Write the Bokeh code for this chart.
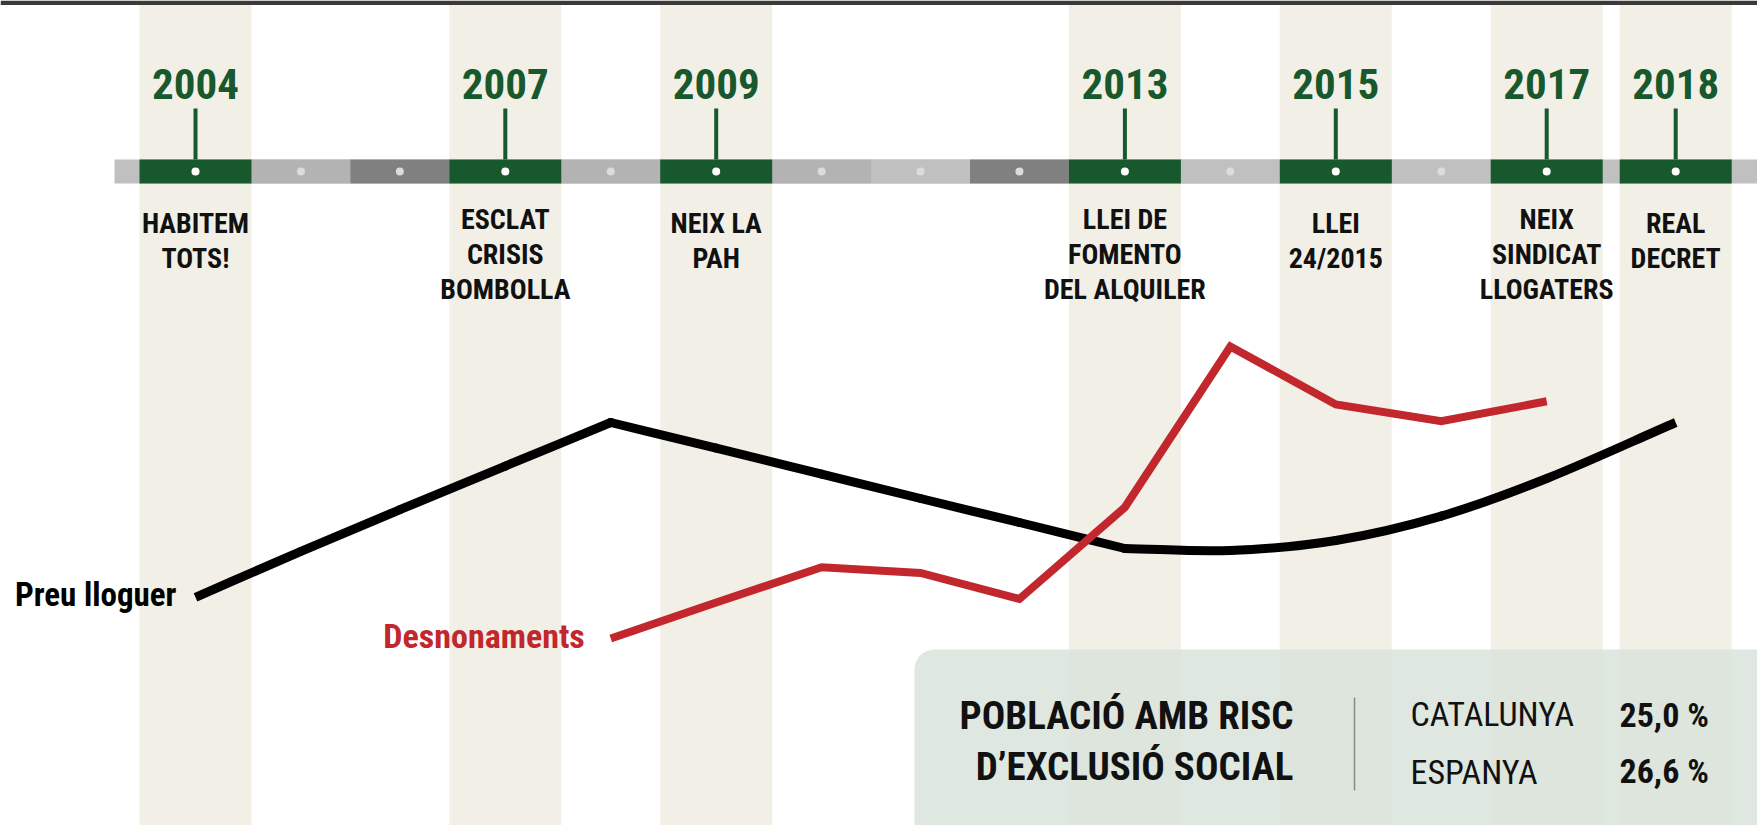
import math
from bokeh.plotting import figure
from bokeh.models import Range1d, BoxAnnotation
from bokeh.core.properties import value
from bokeh.embed import file_html
from bokeh.resources import INLINE

# ---------------- data ----------------
YEARS = list(range(2004, 2019))
EVENT_YEARS = [2004, 2007, 2009, 2013, 2015, 2017, 2018]
EVENT_LABELS = [
    ["HABITEM", "TOTS!"],
    ["ESCLAT", "CRISIS", "BOMBOLLA"],
    ["NEIX LA", "PAH"],
    ["LLEI DE", "FOMENTO", "DEL ALQUILER"],
    ["LLEI", "24/2015"],
    ["NEIX", "SINDICAT", "LLOGATERS"],
    ["REAL", "DECRET"],
]
# tone of the plain (non-event) year blocks on the timeline: 0 light, 1 mid, 2 dark
YEAR_TONE = {2005: 1, 2006: 2, 2008: 1, 2010: 1, 2011: 0, 2012: 2, 2014: 0, 2016: 0}

PREU_NAME = "Preu lloguer"
PREU_YEARS = list(range(2004, 2019))
PREU_INDEX = [25.8, 37.3, 47.7, 58.6, 69.5, 63.1, 56.6, 50.5, 44.5, 38.0, 37.5, 40.0, 46.1, 55.5, 69.5]

DESN_NAME = "Desnonaments"
DESN_YEARS = list(range(2008, 2018))
DESN_INDEX = [15.5, 24.5, 33.3, 31.9, 25.4, 48.3, 88.5, 74.0, 69.8, 74.8]

RISK_TITLE = ["POBLACIÓ AMB RISC", "D\u2019EXCLUSIÓ SOCIAL"]
RISK_REGIONS = ["CATALUNYA", "ESPANYA"]
RISK_PCT = [25.0, 26.6]

# ---------------- layout / style ----------------
W, H = 1757, 825
PX_PER_YEAR = 98.9              # width of an ordinary year block
EVENT_SLOT = 112 / PX_PER_YEAR  # event years get a wider block
GAP_LAST = 17 / PX_PER_YEAR     # small spacer before the last block
TL_LEFT_PX = 139                # left edge of first year block
X0 = -TL_LEFT_PX / PX_PER_YEAR
X1 = X0 + W / PX_PER_YEAR
Y_ZERO_PX, PX_PER_UNIT = 700, 4.0

GREEN = "#17582c"
STRIPE = "#f2efe7"
RED = "#c1272d"
INK = "#111111"
TONES = ["#c0c0c0", "#b3b3b3", "#808080"]
FONT = value("Roboto Condensed")
PREU_W = 9

# year block geometry in timeline units
edges = {}
pos = 0.0
for yr in YEARS:
    if yr == YEARS[-1]:
        pos += GAP_LAST
    w = EVENT_SLOT if yr in EVENT_YEARS else 1.0
    edges[yr] = (pos, pos + w)
    pos += w
center = {yr: (a + b) / 2 for yr, (a, b) in edges.items()}

p = figure(width=W, height=H, output_backend="svg", toolbar_location=None,
           x_range=Range1d(X0, X1),
           y_range=Range1d(-(H - Y_ZERO_PX) / PX_PER_UNIT, Y_ZERO_PX / PX_PER_UNIT),
           x_axis_location=None, y_axis_location=None, min_border=0,
           outline_line_color=None, background_fill_color="white",
           border_fill_color="white")
p.grid.visible = False
p.extra_x_ranges = {"px": Range1d(0, W)}
p.extra_y_ranges = {"px": Range1d(H, 0)}

# stripes for event years
p.quad(left=[edges[y][0] for y in EVENT_YEARS], right=[edges[y][1] for y in EVENT_YEARS],
       top=4, bottom=H, y_range_name="px", fill_color=STRIPE, line_color=None)
# dark rule at the top
p.quad(left=0, right=W, top=0, bottom=4.5, x_range_name="px", y_range_name="px",
       fill_color="#3a3a3a", line_color=None)

# timeline bar
BAR_TOP, BAR_BOT = 159, 183
p.quad(left=-25 / PX_PER_YEAR, right=X1 + 1, top=BAR_TOP, bottom=BAR_BOT, y_range_name="px",
       fill_color=TONES[0], line_color=None)
seg_years = list(YEAR_TONE.keys()) + EVENT_YEARS
seg_cols = [TONES[YEAR_TONE[y]] for y in YEAR_TONE] + [GREEN] * len(EVENT_YEARS)
p.quad(left=[edges[y][0] for y in seg_years], right=[edges[y][1] for y in seg_years],
       top=BAR_TOP, bottom=BAR_BOT, y_range_name="px", fill_color=seg_cols, line_color=None)
p.scatter(x=[center[y] for y in YEARS], y=(BAR_TOP + BAR_BOT) / 2, y_range_name="px", size=8,
          fill_color=["white" if y in EVENT_YEARS else "#dcdcdc" for y in YEARS], line_color=None)

# stems and year labels (y = visual centre of the capitals)
ex = [center[y] for y in EVENT_YEARS]
p.segment(x0=ex, y0=108, x1=ex, y1=BAR_TOP, y_range_name="px", line_color=GREEN, line_width=4)
p.text(x=ex, y=83.5, text=[str(y) for y in EVENT_YEARS], y_range_name="px",
       text_align="center", text_baseline="alphabetic", text_font=FONT,
       text_font_style="bold", text_font_size="43px", text_color=GREEN)

# event descriptions
lx, ly, lt = [], [], []
for yr, lines in zip(EVENT_YEARS, EVENT_LABELS):
    first = 218.5 if len(lines) == 3 else 222.5
    for i, t in enumerate(lines):
        lx.append(center[yr]); ly.append(first + 35 * i); lt.append(t)
p.text(x=lx, y=ly, text=lt, y_range_name="px", text_align="center",
       text_baseline="alphabetic", text_font=FONT, text_font_style="bold",
       text_font_size="28px", text_color=INK)

# ---------------- data lines ----------------
def screen_angle(dx, dy):
    return math.atan2(dy * PX_PER_UNIT, dx * PX_PER_YEAR)


def smooth_path(xs, ys, corner_deg=10):
    """Cubic Hermite through the data points; sharper turns stay as corners."""
    n = len(xs)
    tin, tout, corners = [0.0] * n, [0.0] * n, []
    for i in range(n):
        if i == 0:
            s = (ys[1] - ys[0]) / (xs[1] - xs[0]); tin[i] = tout[i] = s
        elif i == n - 1:
            s = (ys[-1] - ys[-2]) / (xs[-1] - xs[-2]); tin[i] = tout[i] = s
        else:
            s0 = (ys[i] - ys[i - 1]) / (xs[i] - xs[i - 1])
            s1 = (ys[i + 1] - ys[i]) / (xs[i + 1] - xs[i])
            turn = abs(screen_angle(1, s1) - screen_angle(1, s0))
            if math.degrees(turn) > corner_deg:
                tin[i], tout[i] = s0, s1
                corners.append(i)
            else:
                s = (ys[i + 1] - ys[i - 1]) / (xs[i + 1] - xs[i - 1])
                tin[i] = tout[i] = s
    seg = dict(x0=[], y0=[], x1=[], y1=[], cx0=[], cy0=[], cx1=[], cy1=[])
    for i in range(n - 1):
        h = xs[i + 1] - xs[i]
        seg["x0"].append(xs[i]); seg["y0"].append(ys[i])
        seg["x1"].append(xs[i + 1]); seg["y1"].append(ys[i + 1])
        seg["cx0"].append(xs[i] + h / 3); seg["cy0"].append(ys[i] + tout[i] * h / 3)
        seg["cx1"].append(xs[i + 1] - h / 3); seg["cy1"].append(ys[i + 1] - tin[i + 1] * h / 3)
    return seg, corners


preu_x = [center[y] for y in PREU_YEARS]
seg, corners = smooth_path(preu_x, PREU_INDEX)
# inner pieces get round caps so that the pieces join seamlessly; the two
# outer pieces keep square-cut ends like the original
inner = {k: v[1:-1] for k, v in seg.items()}
outer = {k: [v[0], v[-1]] for k, v in seg.items()}
p.bezier(line_color="black", line_width=PREU_W, line_cap="round", **inner)
p.bezier(line_color="black", line_width=PREU_W, line_cap="butt", **outer)
p.scatter(x=[preu_x[i] for i in corners], y=[PREU_INDEX[i] for i in corners],
          size=PREU_W, marker="circle", fill_color="black", line_color=None)

desn_x = [center[y] for y in DESN_YEARS]
p.line(x=desn_x, y=DESN_INDEX, line_color=RED, line_width=8, line_join="miter", line_cap="butt")

p.text(x=[preu_x[0]], y=[PREU_INDEX[0]], text=[PREU_NAME], text_align="right",
       text_baseline="alphabetic", x_offset=-19, y_offset=-3, text_font=FONT,
       text_font_style="bold", text_font_size="33px", text_color="black")
p.text(x=[desn_x[0]], y=[DESN_INDEX[0]], text=[DESN_NAME], text_align="right",
       text_baseline="alphabetic", x_offset=-26, y_offset=-2.5, text_font=FONT,
       text_font_style="bold", text_font_size="34px", text_color=RED)

# ---------------- risk-of-exclusion box ----------------
box = BoxAnnotation(left=914, right=W + 60, top=649, bottom=H + 60,
                    x_range_name="px", y_range_name="px",
                    fill_color="#d8e3d9", fill_alpha=0.82, line_color=None,
                    border_radius=20)
p.add_layout(box)
p.text(x=[1293, 1293], y=[715, 766], text=RISK_TITLE, x_range_name="px", y_range_name="px",
       text_align="right", text_baseline="alphabetic", text_font=FONT,
       text_font_style="bold", text_font_size="39px", text_color=INK, level="overlay")
p.segment(x0=1354, y0=697, x1=1354, y1=790, x_range_name="px", y_range_name="px",
          line_color="#8a8a8a", line_width=1.5, level="overlay")
p.text(x=[1410, 1410], y=[713, 771], text=RISK_REGIONS, x_range_name="px", y_range_name="px",
       text_align="left", text_baseline="alphabetic", text_font=FONT,
       text_font_size="34px", text_color=INK, level="overlay")
p.text(x=[1619, 1619], y=[714, 770.5],
       text=[f"{v:.1f}".replace(".", ",") + " %" for v in RISK_PCT],
       x_range_name="px", y_range_name="px", text_align="left",
       text_baseline="alphabetic", text_font=FONT, text_font_style="bold",
       text_font_size="34px", text_color=INK, level="overlay")

open("out.html", "w").write(file_html(p, INLINE))
